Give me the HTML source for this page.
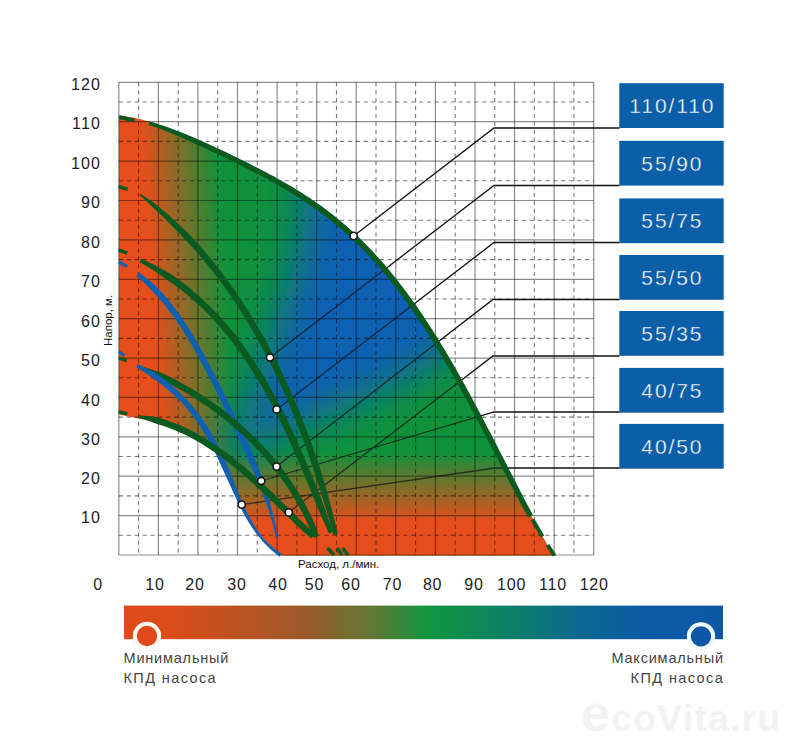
<!DOCTYPE html>
<html><head><meta charset="utf-8"><style>
html,body{margin:0;padding:0;background:#fff;}
svg{display:block;}
text{font-family:"Liberation Sans",sans-serif;}
.gs{stroke:#000;stroke-opacity:.45;stroke-width:1.2;}
.gd{stroke:#000;stroke-opacity:.52;stroke-width:1.1;stroke-dasharray:4.2 3.7;}
.ld{fill:none;stroke:#111;stroke-width:1.3;}
.dot{fill:#fff;stroke:#111;stroke-width:1.6;}
.bt{fill:#fff;font-size:21px;text-anchor:middle;letter-spacing:1.9px;stroke:#0b5ea8;stroke-width:0.35px;}
.ax{fill:#222;font-size:16px;}
.lg{fill:#444;font-size:14.5px;letter-spacing:0.8px;}
</style></head><body>
<svg width="800" height="750" viewBox="0 0 800 750">
<defs>
<clipPath id="env"><path d="M119 114.5 L119.4 115.9 L120 115.9 L120.7 116 L121.4 116 L122.2 116.1 L123.1 116.2 L123.9 116.3 L124.8 116.4 L125.6 116.4 L126.4 116.5 L127.1 116.6 L127.8 116.7 L128.6 116.9 L129.3 117 L130 117.1 L130.8 117.2 L131.5 117.3 L132.2 117.5 L133 117.6 L133.7 117.7 L134.5 117.9 L135.2 118 L135.9 118.2 L136.7 118.4 L137.4 118.5 L138.1 118.7 L138.9 118.9 L139.6 119 L140.3 119.2 L141.1 119.4 L141.8 119.6 L142.5 119.8 L143.3 120 L144 120.2 L144.8 120.4 L145.5 120.6 L146.2 120.8 L147 121 L147.7 121.2 L148.4 121.4 L149.2 121.6 L149.9 121.8 L150.6 122.1 L151.4 122.3 L152.1 122.5 L152.9 122.8 L153.6 123 L154.3 123.2 L155.1 123.5 L155.8 123.7 L156.5 124 L157.3 124.2 L158 124.5 L158.7 124.7 L159.5 125 L160.2 125.2 L160.9 125.5 L161.7 125.8 L162.4 126 L163.2 126.3 L163.9 126.6 L164.6 126.8 L165.4 127.1 L166.1 127.4 L166.8 127.7 L167.6 127.9 L168.3 128.2 L169 128.5 L169.8 128.8 L170.5 129.1 L171.3 129.4 L172 129.6 L172.7 129.9 L173.5 130.2 L174.2 130.5 L174.9 130.8 L175.7 131.1 L176.4 131.4 L177.1 131.7 L177.9 132 L178.6 132.3 L179.3 132.6 L180.1 132.9 L180.8 133.2 L181.6 133.5 L182.3 133.9 L183 134.2 L183.8 134.5 L184.5 134.8 L185.2 135.1 L186 135.4 L186.7 135.7 L187.4 136 L188.2 136.4 L188.9 136.7 L189.6 137 L190.4 137.3 L191.1 137.7 L191.9 138 L192.6 138.3 L193.3 138.6 L194.1 138.9 L194.8 139.3 L195.5 139.6 L196.3 139.9 L197 140.3 L197.7 140.6 L198.5 140.9 L199.2 141.3 L200 141.6 L200.7 141.9 L201.4 142.2 L202.2 142.6 L202.9 142.9 L203.6 143.3 L204.4 143.6 L205.1 143.9 L205.8 144.3 L206.6 144.6 L207.3 144.9 L208 145.3 L208.8 145.6 L209.5 146 L210.3 146.3 L211 146.6 L211.7 147 L212.5 147.3 L213.2 147.7 L213.9 148 L214.7 148.4 L215.4 148.7 L216.1 149.1 L216.9 149.4 L217.6 149.7 L218.4 150.1 L219.1 150.4 L219.8 150.8 L220.6 151.1 L221.3 151.5 L222 151.8 L222.8 152.2 L223.5 152.5 L224.2 152.9 L225 153.2 L225.7 153.6 L226.4 153.9 L227.2 154.3 L227.9 154.7 L228.7 155 L229.4 155.4 L230.1 155.7 L230.9 156.1 L231.6 156.4 L232.3 156.8 L233.1 157.1 L233.8 157.5 L234.5 157.9 L235.3 158.2 L236 158.6 L236.7 158.9 L237.5 159.3 L238.2 159.7 L239 160 L239.7 160.4 L240.4 160.8 L241.2 161.1 L241.9 161.5 L242.6 161.9 L243.4 162.2 L244.1 162.6 L244.8 163 L245.6 163.3 L246.3 163.7 L247.1 164.1 L247.8 164.4 L248.5 164.8 L249.3 165.2 L250 165.5 L250.7 165.9 L251.5 166.3 L252.2 166.7 L252.9 167 L253.7 167.4 L254.4 167.8 L255.1 168.2 L255.9 168.6 L256.6 168.9 L257.4 169.3 L258.1 169.7 L258.8 170.1 L259.6 170.5 L260.3 170.9 L261 171.2 L261.8 171.6 L262.5 172 L263.2 172.4 L264 172.8 L264.7 173.2 L265.5 173.6 L266.2 174 L266.9 174.4 L267.7 174.8 L268.4 175.2 L269.1 175.6 L269.9 176 L270.6 176.4 L271.3 176.8 L272.1 177.2 L272.8 177.6 L273.5 178 L274.3 178.4 L275 178.8 L275.8 179.2 L276.5 179.6 L277.2 180 L278 180.4 L278.7 180.9 L279.4 181.3 L280.2 181.7 L280.9 182.1 L281.6 182.5 L282.4 183 L283.1 183.4 L283.8 183.8 L284.6 184.2 L285.3 184.7 L286.1 185.1 L286.8 185.5 L287.5 186 L288.3 186.4 L289 186.8 L289.7 187.3 L290.5 187.7 L291.2 188.2 L291.9 188.6 L292.7 189.1 L293.4 189.5 L294.2 190 L294.9 190.4 L295.6 190.9 L296.4 191.3 L297.1 191.8 L297.8 192.2 L298.6 192.7 L299.3 193.2 L300 193.6 L300.8 194.1 L301.5 194.6 L302.2 195.1 L303 195.5 L303.7 196 L304.5 196.5 L305.2 197 L305.9 197.5 L306.7 197.9 L307.4 198.4 L308.1 198.9 L308.9 199.4 L309.6 199.9 L310.3 200.4 L311.1 200.9 L311.8 201.4 L312.6 201.9 L313.3 202.4 L314 203 L314.8 203.5 L315.5 204 L316.2 204.5 L317 205 L317.7 205.6 L318.4 206.1 L319.2 206.6 L319.9 207.1 L320.6 207.7 L321.4 208.2 L322.1 208.8 L322.9 209.3 L323.6 209.9 L324.3 210.4 L325.1 211 L325.8 211.5 L326.5 212.1 L327.3 212.6 L328 213.2 L328.7 213.8 L329.5 214.4 L330.2 214.9 L330.9 215.5 L331.7 216.1 L332.4 216.7 L333.2 217.3 L333.9 217.9 L334.6 218.5 L335.4 219.1 L336.1 219.7 L336.8 220.3 L337.6 220.9 L338.3 221.5 L339 222.1 L339.8 222.7 L340.5 223.3 L341.3 224 L342 224.6 L342.7 225.2 L343.5 225.9 L344.2 226.5 L344.9 227.1 L345.7 227.8 L346.4 228.4 L347.1 229.1 L347.9 229.7 L348.6 230.4 L349.3 231.1 L350.1 231.7 L350.8 232.4 L351.6 233.1 L352.3 233.8 L353 234.5 L353.8 235.1 L354.5 235.8 L355.2 236.5 L356 237.2 L356.7 237.9 L357.4 238.6 L358.2 239.4 L358.9 240.1 L359.6 240.8 L360.4 241.5 L361.1 242.2 L361.9 243 L362.6 243.7 L363.3 244.5 L364.1 245.2 L364.8 246 L365.5 246.7 L366.3 247.5 L367 248.2 L367.7 249 L368.5 249.8 L369.2 250.5 L370 251.3 L370.7 252.1 L371.4 252.9 L372.2 253.7 L372.9 254.5 L373.6 255.3 L374.4 256.1 L375.1 256.9 L375.8 257.7 L376.6 258.5 L377.3 259.3 L378 260.2 L378.8 261 L379.5 261.8 L380.3 262.7 L381 263.5 L381.7 264.4 L382.5 265.2 L383.2 266.1 L383.9 266.9 L384.7 267.8 L385.4 268.7 L386.1 269.5 L386.9 270.4 L387.6 271.3 L388.4 272.2 L389.1 273.1 L389.8 274 L390.6 274.9 L391.3 275.8 L392 276.7 L392.8 277.6 L393.5 278.6 L394.2 279.5 L395 280.4 L395.7 281.3 L396.4 282.3 L397.2 283.2 L397.9 284.2 L398.7 285.1 L399.4 286.1 L400.1 287.1 L400.9 288 L401.6 289 L402.3 290 L403.1 291 L403.8 291.9 L404.5 292.9 L405.3 293.9 L406 294.9 L406.7 295.9 L407.5 297 L408.2 298 L409 299 L409.7 300 L410.4 301 L411.2 302.1 L411.9 303.1 L412.6 304.2 L413.4 305.2 L414.1 306.3 L414.8 307.3 L415.6 308.4 L416.3 309.5 L417.1 310.5 L417.8 311.6 L418.5 312.7 L419.3 313.8 L420 314.9 L420.7 316 L421.5 317.1 L422.2 318.2 L422.9 319.3 L423.7 320.4 L424.4 321.5 L425.1 322.6 L425.9 323.8 L426.6 324.9 L427.4 326 L428.1 327.2 L428.8 328.3 L429.6 329.5 L430.3 330.6 L431 331.8 L431.8 332.9 L432.5 334.1 L433.2 335.3 L434 336.4 L434.7 337.6 L435.5 338.8 L436.2 340 L436.9 341.2 L437.7 342.4 L438.4 343.6 L439.1 344.8 L439.9 346 L440.6 347.2 L441.3 348.5 L442.1 349.7 L442.8 350.9 L443.5 352.1 L444.3 353.4 L445 354.6 L445.8 355.9 L446.5 357.1 L447.2 358.4 L448 359.6 L448.7 360.9 L449.4 362.1 L450.2 363.4 L450.9 364.7 L451.6 366 L452.4 367.2 L453.1 368.5 L453.8 369.8 L454.6 371.1 L455.3 372.4 L456.1 373.7 L456.8 375 L457.5 376.3 L458.3 377.6 L459 378.9 L459.7 380.2 L460.5 381.6 L461.2 382.9 L461.9 384.2 L462.7 385.5 L463.4 386.9 L464.2 388.2 L464.9 389.6 L465.6 390.9 L466.4 392.2 L467.1 393.6 L467.8 394.9 L468.6 396.3 L469.3 397.7 L470 399 L470.8 400.4 L471.5 401.7 L472.2 403.1 L473 404.5 L473.7 405.9 L474.5 407.2 L475.2 408.6 L475.9 410 L476.7 411.4 L477.4 412.8 L478.1 414.2 L478.9 415.5 L479.6 416.9 L480.3 418.3 L481.1 419.7 L481.8 421.1 L482.6 422.5 L483.3 423.9 L484 425.3 L484.8 426.8 L485.5 428.2 L486.2 429.6 L487 431 L487.7 432.4 L488.4 433.8 L489.2 435.2 L489.9 436.7 L490.6 438.1 L491.4 439.5 L492.1 440.9 L492.9 442.3 L493.6 443.8 L494.3 445.2 L495.1 446.6 L495.8 448 L496.5 449.5 L497.3 450.9 L498 452.3 L498.7 453.8 L499.5 455.2 L500.2 456.6 L500.9 458.1 L501.7 459.5 L502.4 460.9 L503.2 462.4 L503.9 463.8 L504.6 465.2 L505.4 466.6 L506.1 468.1 L506.8 469.5 L507.6 470.9 L508.3 472.4 L509 473.8 L509.8 475.2 L510.5 476.7 L511.3 478.1 L512 479.5 L512.7 480.9 L513.5 482.4 L514.2 483.8 L514.9 485.2 L515.7 486.6 L516.4 488 L517.1 489.5 L517.9 490.9 L518.6 492.3 L519.3 493.7 L520.1 495.1 L520.8 496.5 L521.6 497.9 L522.3 499.3 L523 500.7 L523.8 502.1 L524.5 503.5 L525.2 504.9 L526 506.3 L526.7 507.7 L527.4 509.1 L528.2 510.5 L528.9 511.8 L529.7 513.2 L530.4 514.6 L531.1 515.9 L531.9 517.3 L532.6 518.7 L533.3 520 L534.1 521.4 L534.8 522.7 L535.5 524.1 L536.3 525.4 L537 526.7 L537.7 528.1 L538.5 529.4 L539.2 530.7 L540 532 L540.7 533.3 L541.4 534.6 L542.2 535.9 L542.9 537.2 L543.6 538.5 L544.4 539.8 L545.1 541.1 L545.8 542.4 L546.6 543.7 L547.4 545.1 L548.3 546.5 L549.1 547.9 L550 549.3 L550.8 550.7 L551.5 551.9 L552.2 553 L552.8 554 L553.2 554.7 L556 555.5 L281 555.5 L282.1 555.3 L281.8 555.1 L281.4 554.8 L280.9 554.5 L280.4 554.1 L279.8 553.6 L279.2 553.2 L278.5 552.7 L277.9 552.3 L277.3 551.8 L276.8 551.4 L276.3 551 L275.8 550.6 L275.3 550.2 L274.8 549.8 L274.3 549.4 L273.8 549 L273.3 548.5 L272.8 548.1 L272.4 547.7 L271.9 547.3 L271.4 546.8 L271 546.4 L270.5 546 L270 545.5 L269.6 545.1 L269.1 544.6 L268.7 544.2 L268.3 543.8 L267.8 543.3 L267.4 542.9 L267 542.4 L266.5 541.9 L266.1 541.5 L265.7 541 L265.3 540.6 L264.9 540.1 L264.5 539.6 L264.1 539.2 L263.7 538.7 L263.3 538.2 L262.9 537.8 L262.5 537.3 L262.1 536.8 L261.7 536.3 L261.3 535.8 L260.9 535.4 L260.5 534.9 L260.2 534.4 L259.8 533.9 L259.4 533.4 L259.1 532.9 L258.7 532.4 L258.3 531.9 L258 531.4 L257.6 530.9 L257.3 530.4 L256.9 529.9 L256.6 529.4 L256.2 528.9 L255.9 528.4 L255.6 527.9 L255.2 527.4 L254.9 526.9 L254.6 526.4 L254.2 525.8 L253.9 525.3 L253.6 524.8 L253.3 524.3 L252.9 523.8 L252.6 523.2 L252.3 522.7 L252 522.2 L251.7 521.7 L251.4 521.1 L251.1 520.6 L250.8 520.1 L250.4 519.5 L250.1 519 L249.8 518.5 L249.5 517.9 L249.2 517.4 L249 516.9 L248.7 516.3 L248.4 515.8 L248.1 515.3 L247.8 514.7 L247.5 514.2 L247.2 513.6 L246.9 513.1 L246.7 512.5 L246.4 512 L246.1 511.4 L245.8 510.9 L245.5 510.3 L245.3 509.8 L245 509.2 L244.7 508.7 L244.4 508.1 L244.2 507.6 L243.9 507 L243.6 506.5 L243.4 505.9 L243.1 505.3 L242.8 504.8 L242.6 504.2 L242.3 503.7 L242.1 503.1 L241.8 502.5 L241.5 502 L241.3 501.4 L241 500.9 L240.8 500.3 L240.5 499.7 L240.2 499.2 L240 498.6 L239.7 498 L239.5 497.5 L239.2 496.9 L239 496.3 L238.7 495.8 L238.5 495.2 L238.2 494.6 L238 494 L237.7 493.5 L237.5 492.9 L237.2 492.3 L237 491.8 L236.7 491.2 L236.5 490.6 L236.2 490 L236 489.5 L235.8 488.9 L235.5 488.3 L235.3 487.8 L235 487.2 L234.8 486.6 L234.5 486 L234.3 485.5 L234 484.9 L233.8 484.3 L233.5 483.7 L233.3 483.2 L233.1 482.6 L232.8 482 L232.6 481.4 L232.3 480.9 L232.1 480.3 L231.8 479.7 L231.6 479.1 L231.3 478.6 L231.1 478 L230.9 477.4 L230.6 476.8 L230.4 476.2 L230.1 475.7 L229.9 475.1 L229.6 474.5 L229.4 473.9 L229.1 473.4 L228.9 472.8 L228.6 472.2 L228.4 471.6 L228.1 471.1 L227.9 470.5 L227.6 469.9 L227.4 469.3 L227.1 468.8 L226.9 468.2 L226.6 467.6 L226.4 467 L226.1 466.5 L225.9 465.9 L225.6 465.3 L225.4 464.8 L225.1 464.2 L224.9 463.6 L224.6 463 L224.4 462.5 L224.1 461.9 L223.8 461.3 L223.6 460.8 L223.3 460.2 L223.1 459.6 L222.8 459.1 L222.5 458.5 L222.3 457.9 L222 457.4 L221.8 456.8 L221.5 456.2 L221.2 455.7 L221 455.1 L220.7 454.5 L220.4 454 L220.2 453.4 L219.9 452.8 L219.6 452.3 L219.3 451.7 L219.1 451.2 L218.8 450.6 L216.7 451.8 L216.3 451.5 L215.8 451.1 L215.4 450.8 L214.9 450.5 L214.5 450.2 L214 449.9 L213.6 449.6 L213.1 449.3 L212.6 449 L212.2 448.7 L211.7 448.4 L211.3 448.1 L210.8 447.8 L210.4 447.5 L209.9 447.2 L209.4 446.9 L209 446.6 L208.5 446.3 L208.1 446 L207.6 445.7 L207.1 445.4 L206.7 445.1 L206.2 444.8 L205.7 444.5 L205.3 444.3 L204.8 444 L204.3 443.7 L203.9 443.4 L203.4 443.1 L202.9 442.8 L202.5 442.5 L202 442.3 L201.5 442 L201.1 441.7 L200.6 441.4 L200.1 441.2 L199.6 440.9 L199.2 440.6 L198.7 440.3 L198.2 440.1 L197.7 439.8 L197.3 439.5 L196.8 439.3 L196.3 439 L195.8 438.7 L195.3 438.5 L194.9 438.2 L194.4 437.9 L193.9 437.7 L193.4 437.4 L192.9 437.2 L192.5 436.9 L192 436.7 L191.5 436.4 L191 436.2 L190.5 435.9 L190 435.7 L189.5 435.4 L189.1 435.2 L188.6 434.9 L188.1 434.7 L187.6 434.4 L187.1 434.2 L186.6 433.9 L186.1 433.7 L185.6 433.5 L185.1 433.2 L184.6 433 L184.1 432.8 L183.6 432.5 L183.1 432.3 L182.7 432.1 L182.2 431.8 L181.7 431.6 L181.2 431.4 L180.7 431.2 L180.2 430.9 L179.6 430.7 L179.1 430.5 L178.6 430.3 L178.1 430.1 L177.6 429.9 L177.1 429.6 L176.6 429.4 L176.1 429.2 L175.6 429 L175.1 428.8 L174.6 428.6 L174.1 428.4 L173.6 428.2 L173.1 428 L172.5 427.8 L172 427.6 L171.5 427.4 L171 427.2 L170.5 427 L170 426.8 L169.4 426.6 L168.9 426.4 L168.4 426.2 L167.9 426.1 L167.4 425.9 L166.8 425.7 L166.3 425.5 L165.8 425.3 L165.3 425.2 L164.7 425 L164.2 424.8 L163.7 424.6 L163.2 424.5 L162.6 424.3 L162.1 424.1 L161.6 424 L161 423.8 L160.5 423.6 L160 423.5 L159.4 423.3 L158.9 423.1 L158.4 423 L157.8 422.8 L157.3 422.7 L156.8 422.5 L156.2 422.4 L155.7 422.2 L155.1 422.1 L154.6 421.9 L154.1 421.8 L153.5 421.7 L153 421.5 L152.4 421.4 L151.9 421.2 L151.3 421.1 L150.8 421 L150.2 420.8 L149.7 420.7 L149.1 420.6 L148.6 420.5 L148 420.3 L147.5 420.2 L146.9 420.1 L146.4 420 L145.8 419.9 L145.2 419.8 L144.7 419.6 L144.1 419.5 L143.5 419.4 L142.9 419.3 L142.3 419.2 L141.6 419.1 L141 419 L140.3 418.8 L139.8 418.7 L139.2 418.7 L138.8 418.6 L138.5 418.5 L119 414.5Z"/></clipPath>
<linearGradient id="lg1" x1="152" y1="280" x2="226" y2="275" gradientUnits="userSpaceOnUse">
<stop offset="0" stop-color="#e54e1b"/><stop offset="1" stop-color="#0f923b"/></linearGradient>
<linearGradient id="lg2" x1="0" y1="452" x2="0" y2="521" gradientUnits="userSpaceOnUse">
<stop offset="0" stop-color="#e54e1b" stop-opacity="0"/><stop offset="0.5" stop-color="#e54e1b" stop-opacity="0.5"/><stop offset="1" stop-color="#e54e1b" stop-opacity="1"/></linearGradient>
<filter id="bl" x="-50%" y="-50%" width="200%" height="200%"><feGaussianBlur stdDeviation="21"/></filter>
<linearGradient id="bar" x1="124" y1="0" x2="723" y2="0" gradientUnits="userSpaceOnUse">
<stop offset="0" stop-color="#e04a1a"/><stop offset="0.08" stop-color="#dc4c1a"/><stop offset="0.3" stop-color="#9c5a2a"/><stop offset="0.42" stop-color="#5c7a35"/><stop offset="0.51" stop-color="#0f963f"/><stop offset="0.63" stop-color="#0b8262"/><stop offset="0.76" stop-color="#0b6890"/><stop offset="0.87" stop-color="#0c5ba4"/><stop offset="1" stop-color="#0c58a6"/></linearGradient>
</defs>
<line x1="118.8" y1="82.3" x2="118.8" y2="555" class="gs"/><line x1="138.6" y1="82.3" x2="138.6" y2="555" class="gd"/><line x1="158.4" y1="82.3" x2="158.4" y2="555" class="gs"/><line x1="178.2" y1="82.3" x2="178.2" y2="555" class="gd"/><line x1="197.9" y1="82.3" x2="197.9" y2="555" class="gs"/><line x1="217.7" y1="82.3" x2="217.7" y2="555" class="gd"/><line x1="237.5" y1="82.3" x2="237.5" y2="555" class="gs"/><line x1="257.3" y1="82.3" x2="257.3" y2="555" class="gd"/><line x1="277.1" y1="82.3" x2="277.1" y2="555" class="gs"/><line x1="296.9" y1="82.3" x2="296.9" y2="555" class="gd"/><line x1="316.7" y1="82.3" x2="316.7" y2="555" class="gs"/><line x1="336.5" y1="82.3" x2="336.5" y2="555" class="gd"/><line x1="356.2" y1="82.3" x2="356.2" y2="555" class="gs"/><line x1="376" y1="82.3" x2="376" y2="555" class="gd"/><line x1="395.8" y1="82.3" x2="395.8" y2="555" class="gs"/><line x1="415.6" y1="82.3" x2="415.6" y2="555" class="gd"/><line x1="435.4" y1="82.3" x2="435.4" y2="555" class="gs"/><line x1="455.2" y1="82.3" x2="455.2" y2="555" class="gd"/><line x1="475" y1="82.3" x2="475" y2="555" class="gs"/><line x1="494.8" y1="82.3" x2="494.8" y2="555" class="gd"/><line x1="514.5" y1="82.3" x2="514.5" y2="555" class="gs"/><line x1="534.3" y1="82.3" x2="534.3" y2="555" class="gd"/><line x1="554.1" y1="82.3" x2="554.1" y2="555" class="gs"/><line x1="573.9" y1="82.3" x2="573.9" y2="555" class="gd"/><line x1="593.7" y1="82.3" x2="593.7" y2="555" class="gs"/><line x1="118.8" y1="555" x2="593.7" y2="555" class="gs"/><line x1="118.8" y1="535.3" x2="593.7" y2="535.3" class="gd"/><line x1="118.8" y1="515.6" x2="593.7" y2="515.6" class="gs"/><line x1="118.8" y1="495.9" x2="593.7" y2="495.9" class="gd"/><line x1="118.8" y1="476.2" x2="593.7" y2="476.2" class="gs"/><line x1="118.8" y1="456.5" x2="593.7" y2="456.5" class="gd"/><line x1="118.8" y1="436.8" x2="593.7" y2="436.8" class="gs"/><line x1="118.8" y1="417.1" x2="593.7" y2="417.1" class="gd"/><line x1="118.8" y1="397.4" x2="593.7" y2="397.4" class="gs"/><line x1="118.8" y1="377.7" x2="593.7" y2="377.7" class="gd"/><line x1="118.8" y1="358.1" x2="593.7" y2="358.1" class="gs"/><line x1="118.8" y1="338.4" x2="593.7" y2="338.4" class="gd"/><line x1="118.8" y1="318.7" x2="593.7" y2="318.7" class="gs"/><line x1="118.8" y1="299" x2="593.7" y2="299" class="gd"/><line x1="118.8" y1="279.3" x2="593.7" y2="279.3" class="gs"/><line x1="118.8" y1="259.6" x2="593.7" y2="259.6" class="gd"/><line x1="118.8" y1="239.9" x2="593.7" y2="239.9" class="gs"/><line x1="118.8" y1="220.2" x2="593.7" y2="220.2" class="gd"/><line x1="118.8" y1="200.5" x2="593.7" y2="200.5" class="gs"/><line x1="118.8" y1="180.8" x2="593.7" y2="180.8" class="gd"/><line x1="118.8" y1="161.1" x2="593.7" y2="161.1" class="gs"/><line x1="118.8" y1="141.4" x2="593.7" y2="141.4" class="gd"/><line x1="118.8" y1="121.7" x2="593.7" y2="121.7" class="gs"/><line x1="118.8" y1="102" x2="593.7" y2="102" class="gd"/><line x1="118.8" y1="82.3" x2="593.7" y2="82.3" class="gs"/>
<polyline points="353.6,235.9 494,128 619.5,128" class="ld"/><polyline points="270,357.5 494,185.5 619.5,185.5" class="ld"/><polyline points="276.6,409.4 494,242.5 619.5,242.5" class="ld"/><polyline points="276.6,466.6 493,299.5 619.5,299.5" class="ld"/><polyline points="288.8,512.4 493,356 619.5,356" class="ld"/><polyline points="261.2,481 494,412 619.5,412" class="ld"/><polyline points="241.7,504.6 495,468 619.5,468" class="ld"/>
<g clip-path="url(#env)">
<rect x="110" y="100" width="460" height="460" fill="url(#lg1)"/>
<path d="M306 140 L304 207 L296 263 L277 319 L259 375 L240 425 L218 468 L290 428 L350 405 L410 377 L440 358 L540 300 L540 140 Z" fill="#0c60b2" filter="url(#bl)"/>
<rect x="110" y="440" width="460" height="120" fill="url(#lg2)"/>
<g opacity="0.95"><line x1="118.8" y1="82.3" x2="118.8" y2="555" class="gs"/><line x1="138.6" y1="82.3" x2="138.6" y2="555" class="gd"/><line x1="158.4" y1="82.3" x2="158.4" y2="555" class="gs"/><line x1="178.2" y1="82.3" x2="178.2" y2="555" class="gd"/><line x1="197.9" y1="82.3" x2="197.9" y2="555" class="gs"/><line x1="217.7" y1="82.3" x2="217.7" y2="555" class="gd"/><line x1="237.5" y1="82.3" x2="237.5" y2="555" class="gs"/><line x1="257.3" y1="82.3" x2="257.3" y2="555" class="gd"/><line x1="277.1" y1="82.3" x2="277.1" y2="555" class="gs"/><line x1="296.9" y1="82.3" x2="296.9" y2="555" class="gd"/><line x1="316.7" y1="82.3" x2="316.7" y2="555" class="gs"/><line x1="336.5" y1="82.3" x2="336.5" y2="555" class="gd"/><line x1="356.2" y1="82.3" x2="356.2" y2="555" class="gs"/><line x1="376" y1="82.3" x2="376" y2="555" class="gd"/><line x1="395.8" y1="82.3" x2="395.8" y2="555" class="gs"/><line x1="415.6" y1="82.3" x2="415.6" y2="555" class="gd"/><line x1="435.4" y1="82.3" x2="435.4" y2="555" class="gs"/><line x1="455.2" y1="82.3" x2="455.2" y2="555" class="gd"/><line x1="475" y1="82.3" x2="475" y2="555" class="gs"/><line x1="494.8" y1="82.3" x2="494.8" y2="555" class="gd"/><line x1="514.5" y1="82.3" x2="514.5" y2="555" class="gs"/><line x1="534.3" y1="82.3" x2="534.3" y2="555" class="gd"/><line x1="554.1" y1="82.3" x2="554.1" y2="555" class="gs"/><line x1="573.9" y1="82.3" x2="573.9" y2="555" class="gd"/><line x1="593.7" y1="82.3" x2="593.7" y2="555" class="gs"/><line x1="118.8" y1="555" x2="593.7" y2="555" class="gs"/><line x1="118.8" y1="535.3" x2="593.7" y2="535.3" class="gd"/><line x1="118.8" y1="515.6" x2="593.7" y2="515.6" class="gs"/><line x1="118.8" y1="495.9" x2="593.7" y2="495.9" class="gd"/><line x1="118.8" y1="476.2" x2="593.7" y2="476.2" class="gs"/><line x1="118.8" y1="456.5" x2="593.7" y2="456.5" class="gd"/><line x1="118.8" y1="436.8" x2="593.7" y2="436.8" class="gs"/><line x1="118.8" y1="417.1" x2="593.7" y2="417.1" class="gd"/><line x1="118.8" y1="397.4" x2="593.7" y2="397.4" class="gs"/><line x1="118.8" y1="377.7" x2="593.7" y2="377.7" class="gd"/><line x1="118.8" y1="358.1" x2="593.7" y2="358.1" class="gs"/><line x1="118.8" y1="338.4" x2="593.7" y2="338.4" class="gd"/><line x1="118.8" y1="318.7" x2="593.7" y2="318.7" class="gs"/><line x1="118.8" y1="299" x2="593.7" y2="299" class="gd"/><line x1="118.8" y1="279.3" x2="593.7" y2="279.3" class="gs"/><line x1="118.8" y1="259.6" x2="593.7" y2="259.6" class="gd"/><line x1="118.8" y1="239.9" x2="593.7" y2="239.9" class="gs"/><line x1="118.8" y1="220.2" x2="593.7" y2="220.2" class="gd"/><line x1="118.8" y1="200.5" x2="593.7" y2="200.5" class="gs"/><line x1="118.8" y1="180.8" x2="593.7" y2="180.8" class="gd"/><line x1="118.8" y1="161.1" x2="593.7" y2="161.1" class="gs"/><line x1="118.8" y1="141.4" x2="593.7" y2="141.4" class="gd"/><line x1="118.8" y1="121.7" x2="593.7" y2="121.7" class="gs"/><line x1="118.8" y1="102" x2="593.7" y2="102" class="gd"/><line x1="118.8" y1="82.3" x2="593.7" y2="82.3" class="gs"/></g><g opacity="0.7"><polyline points="353.6,235.9 494,128 619.5,128" class="ld"/><polyline points="270,357.5 494,185.5 619.5,185.5" class="ld"/><polyline points="276.6,409.4 494,242.5 619.5,242.5" class="ld"/><polyline points="276.6,466.6 493,299.5 619.5,299.5" class="ld"/><polyline points="288.8,512.4 493,356 619.5,356" class="ld"/><polyline points="261.2,481 494,412 619.5,412" class="ld"/><polyline points="241.7,504.6 495,468 619.5,468" class="ld"/></g>
</g>
<path d="M148.5 124.7 L151.3 125.7 L154.9 126.9 L158.1 128 L161.3 129.2 L164.4 130.5 L167.6 131.7 L170.8 133 L174 134.4 L177.2 135.8 L180.4 137.2 L183.6 138.6 L186.8 140 L190 141.5 L193.2 142.9 L196.4 144.4 L199.6 145.8 L202.9 147.3 L206.1 148.8 L209.3 150.3 L212.5 151.8 L215.8 153.3 L219 154.8 L222.2 156.4 L225.4 157.9 L228.7 159.5 L231.9 161.1 L235.1 162.6 L238.3 164.2 L241.6 165.8 L244.8 167.5 L248 169.1 L251.2 170.7 L254.4 172.4 L257.7 174.1 L260.9 175.8 L264.1 177.5 L267.3 179.2 L270.5 181 L273.7 182.8 L277 184.6 L280.2 186.4 L283.4 188.3 L286.6 190.2 L289.8 192.1 L293 194.1 L296.2 196.1 L299.4 198.1 L302.6 200.2 L305.8 202.3 L309 204.5 L312.2 206.7 L315.4 209 L318.6 211.3 L321.9 213.7 L325.1 216.1 L328.3 218.6 L331.5 221.1 L334.7 223.7 L337.9 226.4 L341.1 229.1 L344.3 231.9 L347.5 234.8 L350.7 237.8 L353.9 240.8 L357.1 243.9 L360.3 247.1 L363.5 250.3 L366.7 253.6 L370 257.1 L373.2 260.6 L376.4 264.1 L379.6 267.8 L382.8 271.6 L386 275.4 L389.2 279.3 L392.4 283.4 L395.7 287.5 L398.9 291.7 L402.1 296 L405.3 300.4 L408.5 304.9 L411.7 309.4 L414.9 314.1 L418.2 318.8 L421.4 323.7 L424.6 328.6 L427.8 333.6 L431.1 338.7 L434.3 343.9 L437.5 349.2 L440.7 354.6 L443.9 360 L447.2 365.5 L450.4 371.1 L453.6 376.8 L456.9 382.5 L460.1 388.3 L463.3 394.2 L466.6 400.1 L469.8 406.1 L473 412.1 L476.3 418.2 L479.5 424.3 L482.7 430.5 L486 436.7 L489.2 442.9 L492.5 449.2 L495.7 455.4 L498.9 461.7 L502.2 468 L505.4 474.3 L508.7 480.6 L511.9 486.8 L515.1 493 L518.4 499.2 L521.6 505.4 L525.3 512.3 L528.1 517.6 L532.9 515 L530.1 509.7 L526.4 502.9 L523.2 496.7 L520 490.5 L516.8 484.3 L513.5 478 L510.3 471.8 L507.1 465.5 L503.9 459.2 L500.6 452.9 L497.4 446.6 L494.2 440.3 L491 434.1 L487.7 427.9 L484.5 421.7 L481.3 415.5 L478 409.4 L474.8 403.4 L471.6 397.4 L468.4 391.4 L465.1 385.5 L461.9 379.7 L458.7 373.9 L455.4 368.2 L452.2 362.6 L448.9 357.1 L445.7 351.6 L442.5 346.2 L439.2 340.9 L436 335.7 L432.7 330.5 L429.5 325.5 L426.2 320.5 L423 315.6 L419.7 310.8 L416.5 306.1 L413.2 301.5 L410 297 L406.7 292.5 L403.5 288.2 L400.2 283.9 L397 279.8 L393.7 275.7 L390.5 271.7 L387.2 267.8 L384 264 L380.7 260.3 L377.5 256.7 L374.2 253.1 L370.9 249.6 L367.7 246.3 L364.4 243 L361.2 239.7 L357.9 236.6 L354.7 233.5 L351.4 230.5 L348.1 227.6 L344.9 224.7 L341.6 222 L338.4 219.3 L335.1 216.6 L331.8 214 L328.6 211.5 L325.3 209 L322.1 206.6 L318.8 204.3 L315.5 202 L312.3 199.8 L309 197.6 L305.7 195.4 L302.5 193.3 L299.2 191.3 L296 189.3 L292.7 187.3 L289.5 185.3 L286.2 183.4 L282.9 181.6 L279.7 179.7 L276.4 177.9 L273.2 176.1 L269.9 174.4 L266.7 172.6 L263.4 170.9 L260.2 169.2 L256.9 167.5 L253.7 165.9 L250.5 164.2 L247.2 162.6 L244 161 L240.7 159.4 L237.5 157.8 L234.2 156.2 L231 154.7 L227.8 153.1 L224.5 151.6 L221.3 150 L218 148.5 L214.8 147 L211.5 145.5 L208.3 144 L205.1 142.5 L201.8 141 L198.6 139.6 L195.3 138.2 L192.1 136.7 L188.8 135.4 L185.5 134.1 L182.3 132.7 L179 131.5 L175.7 130.2 L172.4 129 L169.2 127.8 L165.9 126.6 L162.6 125.5 L159.3 124.4 L156.1 123.3 L152.4 122.2 L149.5 121.4Z" fill="#0b5a1f"/><path d="M139.8 195.3 L143.2 198.4 L147.5 202.3 L151.2 205.8 L154.9 209.4 L158.7 212.8 L162.4 216.3 L166.1 219.8 L169.7 223.4 L173.3 227 L176.8 230.7 L180.3 234.4 L183.8 238.1 L187.2 241.7 L190.7 245.5 L194.1 249.2 L197.4 253 L200.7 256.9 L204 260.7 L207.2 264.6 L210.4 268.6 L213.5 272.6 L216.6 276.6 L219.7 280.6 L222.7 284.7 L225.6 288.8 L228.6 293 L231.4 297.1 L234.3 301.3 L237.1 305.6 L239.9 309.8 L242.6 314.1 L245.3 318.4 L247.9 322.8 L250.5 327.2 L253.1 331.6 L255.7 336 L258.1 340.4 L260.6 344.9 L263 349.4 L265.4 353.9 L267.8 358.4 L270.1 363 L272.4 367.6 L274.6 372.2 L276.8 376.8 L279 381.4 L281.2 386.1 L283.3 390.7 L285.4 395.4 L287.4 400.1 L289.4 404.8 L291.4 409.6 L293.3 414.3 L295.3 419.1 L297.1 423.8 L299 428.6 L300.8 433.4 L302.6 438.2 L304.4 443 L306.1 447.8 L307.8 452.6 L309.5 457.5 L311.1 462.3 L312.7 467.2 L314.3 472 L315.9 476.9 L317.5 481.7 L319.1 486.5 L320.6 491.4 L322.1 496.2 L323.7 501.1 L325.1 505.9 L326.6 510.8 L328 515.6 L329.4 520.5 L330.8 525.3 L332.3 530.8 L333.5 535 L337.8 533.9 L336.8 529.6 L335.5 524.1 L334.3 519.2 L333 514.3 L331.7 509.3 L330.4 504.4 L329.1 499.5 L327.8 494.6 L326.4 489.7 L325 484.7 L323.5 479.8 L322.1 474.9 L320.5 470 L318.9 465.1 L317.3 460.2 L315.6 455.4 L313.9 450.5 L312.2 445.6 L310.5 440.8 L308.7 435.9 L306.9 431.1 L305.1 426.3 L303.2 421.5 L301.3 416.6 L299.4 411.8 L297.4 407.1 L295.4 402.3 L293.4 397.5 L291.3 392.8 L289.2 388.1 L287.1 383.4 L284.9 378.7 L282.7 374 L280.5 369.3 L278.2 364.7 L275.9 360.1 L273.6 355.5 L271.2 350.9 L268.8 346.3 L266.3 341.8 L263.8 337.3 L261.3 332.8 L258.7 328.3 L256.1 323.8 L253.5 319.4 L250.8 315 L248.1 310.7 L245.3 306.3 L242.5 302 L239.7 297.7 L236.8 293.5 L233.9 289.2 L230.9 285 L227.9 280.9 L224.9 276.7 L221.8 272.6 L218.6 268.6 L215.5 264.5 L212.2 260.5 L209 256.6 L205.7 252.6 L202.3 248.8 L198.9 244.9 L195.5 241.1 L192 237.3 L188.5 233.6 L184.8 229.9 L181.1 226.4 L177.3 222.9 L173.5 219.4 L169.7 215.9 L165.8 212.6 L161.8 209.2 L157.9 205.9 L153.7 202.8 L149.5 199.8 L144.7 196.5 L140.9 193.9Z" fill="#0b5a1f"/><path d="M139.5 262.3 L143 264.1 L147.5 266.6 L151.2 269 L155 271.4 L158.6 273.9 L162.2 276.4 L165.8 278.9 L169.4 281.4 L172.9 283.8 L176.4 286.4 L179.9 289 L183.3 291.6 L186.6 294.3 L189.9 297.1 L193.1 299.9 L196.3 302.7 L199.5 305.6 L202.6 308.6 L205.6 311.6 L208.6 314.6 L211.6 317.7 L214.5 320.8 L217.3 324 L220.1 327.2 L222.9 330.4 L225.7 333.7 L228.3 337.1 L231 340.4 L233.6 343.8 L236.2 347.3 L238.7 350.7 L241.2 354.2 L243.7 357.8 L246.1 361.3 L248.5 364.9 L250.8 368.6 L253.2 372.2 L255.4 375.9 L257.7 379.6 L259.9 383.3 L262.1 387.1 L264.3 390.9 L266.4 394.7 L268.5 398.5 L270.6 402.4 L272.6 406.2 L274.6 410.1 L276.6 414 L278.6 417.9 L280.5 421.9 L282.4 425.8 L284.3 429.8 L286.2 433.7 L288.1 437.7 L289.9 441.7 L291.7 445.7 L293.5 449.7 L295.2 453.8 L297 457.8 L298.7 461.8 L300.4 465.8 L302.1 469.9 L303.8 473.9 L305.5 478 L307.2 482 L308.8 486 L310.4 490.1 L312.1 494.1 L313.7 498.1 L315.3 502.1 L316.9 506.1 L318.6 510.1 L320.4 514 L322.1 518 L323.9 521.9 L325.6 525.8 L327.5 530.2 L328.9 533.6 L333.1 532 L331.8 528.5 L330.1 524 L328.8 520 L327.4 515.9 L326 511.8 L324.6 507.7 L323.1 503.7 L321.6 499.6 L320 495.6 L318.4 491.6 L316.8 487.5 L315.1 483.5 L313.5 479.4 L311.8 475.4 L310.1 471.3 L308.4 467.2 L306.7 463.2 L305 459.1 L303.2 455.1 L301.5 451 L299.7 447 L297.9 442.9 L296.1 438.9 L294.2 434.9 L292.4 430.9 L290.5 426.9 L288.6 422.9 L286.6 418.9 L284.7 414.9 L282.7 410.9 L280.7 407 L278.6 403.1 L276.6 399.2 L274.5 395.3 L272.3 391.4 L270.2 387.5 L268 383.7 L265.8 379.9 L263.5 376.1 L261.2 372.3 L258.9 368.6 L256.6 364.9 L254.2 361.2 L251.7 357.5 L249.3 353.9 L246.8 350.3 L244.2 346.7 L241.7 343.2 L239 339.7 L236.4 336.2 L233.7 332.8 L230.9 329.4 L228.1 326.1 L225.3 322.7 L222.4 319.5 L219.5 316.2 L216.5 313 L213.5 309.9 L210.4 306.8 L207.3 303.7 L204.1 300.7 L200.9 297.7 L197.6 294.8 L194.3 291.9 L190.9 289.1 L187.5 286.3 L184 283.6 L180.5 280.9 L176.9 278.3 L173.2 275.8 L169.5 273.3 L165.7 270.9 L161.8 268.8 L157.7 266.7 L153.7 264.6 L149.6 262.7 L144.9 260.5 L141.3 258.7Z" fill="#0b5a1f"/><path d="M136.4 276.1 L139.1 278.3 L142.5 281.3 L145.3 284 L148 286.8 L150.6 289.5 L153.3 292.3 L155.9 295.1 L158.5 297.9 L161 300.7 L163.4 303.6 L165.8 306.5 L168.1 309.5 L170.4 312.5 L172.7 315.6 L174.9 318.6 L177 321.8 L179.1 324.9 L181.2 328.1 L183.3 331.3 L185.3 334.5 L187.3 337.7 L189.2 341 L191.2 344.3 L193.1 347.6 L195 350.9 L196.8 354.2 L198.7 357.6 L200.5 361 L202.3 364.4 L204.1 367.8 L205.9 371.2 L207.7 374.6 L209.5 378 L211.2 381.5 L212.9 384.9 L214.7 388.4 L216.4 391.8 L218.1 395.3 L219.8 398.8 L221.5 402.2 L223.2 405.7 L224.9 409.2 L226.6 412.7 L228.3 416.2 L229.9 419.7 L231.6 423.2 L233.3 426.7 L234.9 430.2 L236.5 433.7 L238.1 437.2 L239.8 440.7 L241.4 444.2 L242.9 447.7 L244.5 451.2 L246.1 454.7 L247.6 458.3 L249.2 461.8 L250.7 465.3 L252.1 468.9 L253.6 472.4 L255.1 475.9 L256.6 479.5 L258.1 483 L259.6 486.5 L261 490 L262.5 493.6 L263.9 497.2 L265.2 500.7 L266.6 504.3 L267.8 507.9 L269.1 511.5 L270.2 515.2 L271.3 518.9 L272.4 522.6 L273.3 526.3 L274.2 530.1 L275.1 534.4 L275.7 537.7 L277.7 537.4 L277.1 534 L276.3 529.7 L275.6 525.8 L274.8 522 L274 518.2 L273.1 514.4 L272.2 510.7 L271.2 506.9 L270.2 503.1 L269.2 499.4 L268.1 495.7 L267 492 L265.8 488.3 L264.6 484.6 L263.4 481 L262.1 477.3 L260.7 473.7 L259.3 470.1 L257.9 466.5 L256.4 462.9 L254.8 459.4 L253.3 455.8 L251.8 452.2 L250.2 448.7 L248.6 445.2 L247 441.6 L245.4 438.1 L243.8 434.6 L242.1 431.1 L240.5 427.5 L238.9 424 L237.2 420.5 L235.5 417 L233.9 413.5 L232.2 410 L230.5 406.5 L228.8 403 L227.1 399.5 L225.4 396 L223.7 392.5 L222 389.1 L220.2 385.6 L218.5 382.1 L216.7 378.6 L215 375.2 L213.2 371.7 L211.4 368.3 L209.6 364.9 L207.8 361.4 L206 358 L204.1 354.6 L202.3 351.2 L200.4 347.9 L198.5 344.5 L196.5 341.2 L194.6 337.8 L192.6 334.5 L190.6 331.2 L188.5 327.9 L186.4 324.7 L184.3 321.5 L182.1 318.3 L179.9 315.1 L177.7 311.9 L175.4 308.8 L173 305.7 L170.6 302.7 L168.2 299.7 L165.7 296.7 L163.1 293.7 L160.4 290.8 L157.7 288 L154.9 285.2 L151.9 282.6 L148.8 280 L145.7 277.5 L142 274.8 L139.2 272.6Z" fill="#1060b0"/><path d="M136.9 367.1 L139.5 368.1 L142.8 369.7 L145.7 371.1 L148.6 372.6 L151.4 374.2 L154.2 375.8 L157 377.4 L159.8 378.9 L162.7 380.4 L165.6 381.9 L168.5 383.3 L171.3 384.8 L174.2 386.3 L177 387.9 L179.9 389.4 L182.7 391 L185.5 392.7 L188.3 394.3 L191.1 396 L193.8 397.7 L196.6 399.4 L199.3 401.2 L202 403 L204.7 404.8 L207.4 406.6 L210 408.5 L212.7 410.4 L215.3 412.3 L217.9 414.2 L220.5 416.2 L223.1 418.2 L225.6 420.2 L228.1 422.3 L230.6 424.3 L233.1 426.4 L235.6 428.6 L238 430.7 L240.4 432.9 L242.8 435.1 L245.2 437.3 L247.5 439.5 L249.8 441.8 L252.1 444.1 L254.4 446.4 L256.6 448.7 L258.9 451.1 L261.1 453.5 L263.2 455.9 L265.4 458.3 L267.5 460.8 L269.5 463.2 L271.6 465.7 L273.6 468.2 L275.6 470.8 L277.6 473.3 L279.5 475.9 L281.4 478.5 L283.2 481.2 L285.1 483.8 L286.9 486.5 L288.7 489.2 L290.4 491.9 L292.1 494.6 L293.8 497.4 L295.4 500.1 L297 502.9 L298.6 505.7 L300.1 508.6 L301.6 511.4 L303.1 514.3 L304.5 517.2 L305.9 520.1 L307.2 523 L308.5 526 L309.9 528.9 L311.4 531.8 L313 535.1 L314.1 537.7 L318.8 535.9 L317.8 533.2 L316.7 529.6 L315.7 526.4 L314.5 523.4 L313.1 520.3 L311.8 517.3 L310.3 514.3 L308.9 511.4 L307.4 508.4 L305.8 505.5 L304.3 502.6 L302.7 499.7 L301 496.9 L299.3 494 L297.6 491.2 L295.9 488.4 L294.1 485.6 L292.3 482.9 L290.4 480.1 L288.6 477.4 L286.7 474.7 L284.7 472.1 L282.7 469.4 L280.7 466.8 L278.7 464.2 L276.6 461.6 L274.5 459.1 L272.4 456.6 L270.3 454 L268.1 451.6 L265.9 449.1 L263.6 446.7 L261.4 444.3 L259.1 441.9 L256.8 439.5 L254.4 437.2 L252 434.9 L249.7 432.6 L247.2 430.3 L244.8 428.1 L242.3 425.9 L239.8 423.7 L237.3 421.5 L234.8 419.4 L232.3 417.2 L229.7 415.2 L227.1 413.1 L224.5 411.1 L221.8 409.1 L219.2 407.1 L216.5 405.1 L213.8 403.2 L211.1 401.3 L208.4 399.4 L205.6 397.6 L202.8 395.7 L200.1 393.9 L197.3 392.2 L194.5 390.4 L191.6 388.7 L188.8 387.1 L185.9 385.4 L183 383.8 L180.2 382.2 L177.3 380.6 L174.3 379.1 L171.4 377.6 L168.5 376.1 L165.5 374.6 L162.5 373.3 L159.5 372.1 L156.4 371 L153.3 369.9 L150.2 368.9 L147 367.9 L143.9 366.9 L140.5 365.7 L137.8 364.7Z" fill="#0b5a1f"/><path d="M136.3 367.3 L138.7 368.7 L141.7 370.6 L144.4 372.3 L147 374 L149.5 375.8 L152 377.6 L154.5 379.4 L157 381.3 L159.5 383.1 L162 384.9 L164.4 386.8 L166.8 388.7 L169.1 390.7 L171.4 392.7 L173.6 394.7 L175.9 396.8 L178 399 L180.2 401.1 L182.3 403.3 L184.3 405.6 L186.3 407.8 L188.3 410.2 L190.2 412.5 L192.1 414.9 L193.9 417.3 L195.7 419.8 L197.4 422.2 L199.2 424.7 L200.8 427.3 L202.5 429.9 L204.1 432.5 L205.7 435.1 L207.2 437.7 L208.7 440.4 L210.2 443.1 L211.6 445.8 L213 448.6 L214.4 451.3 L215.8 454.1 L217.1 456.9 L218.4 459.7 L219.7 462.5 L221 465.4 L222.3 468.2 L223.6 471 L224.9 473.9 L226.2 476.7 L227.5 479.6 L228.8 482.4 L230.1 485.3 L231.4 488.1 L232.6 491 L233.9 493.8 L235.3 496.6 L236.6 499.4 L237.9 502.3 L239.3 505.1 L240.7 507.8 L242.1 510.6 L243.6 513.4 L245 516.1 L246.6 518.8 L248.1 521.4 L249.8 524.1 L251.4 526.7 L253.2 529.2 L255 531.7 L256.8 534.2 L258.8 536.7 L260.8 539 L262.8 541.4 L264.9 543.8 L267.2 546 L269.5 548.3 L271.9 550.4 L274.4 552.6 L277.3 555 L279.6 556.8 L281.7 553.9 L279.2 552.3 L276.2 550.2 L273.7 548.3 L271.3 546.3 L269 544.1 L266.8 542 L264.7 539.7 L262.7 537.4 L260.8 535 L259 532.6 L257.3 530.1 L255.6 527.6 L254 525 L252.5 522.4 L251 519.8 L249.5 517.1 L248.1 514.4 L246.7 511.7 L245.4 509 L244.1 506.2 L242.8 503.4 L241.6 500.6 L240.4 497.7 L239.2 494.9 L238 492 L236.8 489.1 L235.7 486.3 L234.5 483.4 L233.4 480.5 L232.2 477.6 L231 474.6 L229.9 471.7 L228.7 468.8 L227.5 465.9 L226.3 463 L225 460.1 L223.7 457.3 L222.4 454.4 L221 451.6 L219.6 448.7 L218.2 445.9 L216.8 443.1 L215.3 440.3 L213.8 437.6 L212.3 434.8 L210.7 432.1 L209.1 429.4 L207.5 426.7 L205.8 424.1 L204.1 421.5 L202.3 418.9 L200.5 416.3 L198.6 413.8 L196.7 411.3 L194.8 408.8 L192.8 406.4 L190.8 404 L188.7 401.6 L186.6 399.3 L184.4 397 L182.2 394.8 L180 392.5 L177.7 390.4 L175.4 388.2 L173 386.2 L170.6 384.1 L168.1 382.1 L165.6 380.2 L163 378.2 L160.5 376.4 L157.8 374.6 L155 373 L152.3 371.4 L149.4 369.9 L146.6 368.4 L143.7 366.9 L140.5 365.4 L138 364.2Z" fill="#1060b0"/><path d="M138.2 418 L140.7 418.5 L143.8 419.3 L146.5 420.2 L149.1 421.1 L151.7 422.1 L154.3 423 L156.9 423.9 L159.6 424.7 L162.2 425.6 L164.7 426.4 L167.3 427.3 L169.8 428.2 L172.4 429.2 L174.9 430.2 L177.4 431.3 L179.8 432.4 L182.3 433.5 L184.7 434.6 L187.1 435.8 L189.5 437 L191.9 438.3 L194.3 439.6 L196.6 440.9 L198.9 442.2 L201.3 443.6 L203.6 445 L205.8 446.4 L208.1 447.9 L210.4 449.4 L212.6 450.9 L214.9 452.4 L217.1 454 L219.3 455.6 L221.5 457.2 L223.7 458.8 L225.8 460.5 L228 462.1 L230.2 463.8 L232.3 465.5 L234.4 467.3 L236.5 469 L238.7 470.8 L240.8 472.6 L242.8 474.3 L244.9 476.2 L247 478 L249.1 479.8 L251.1 481.7 L253.2 483.5 L255.2 485.4 L257.3 487.3 L259.3 489.2 L261.3 491.1 L263.3 493 L265.3 494.9 L267.4 496.8 L269.4 498.7 L271.4 500.6 L273.4 502.6 L275.3 504.5 L277.3 506.4 L279.3 508.4 L281.3 510.3 L283.3 512.3 L285.3 514.2 L287.2 516.1 L289.2 518.1 L291.2 520 L293.2 521.9 L295.1 523.9 L297.1 525.8 L299.1 527.7 L301 529.6 L303 531.5 L305.1 533.3 L307.2 535 L309.6 536.9 L311.4 538.4 L314.9 534.8 L313.2 533.1 L311.2 530.8 L309.4 528.8 L307.5 526.8 L305.6 524.9 L303.6 523 L301.6 521.1 L299.7 519.2 L297.7 517.3 L295.7 515.4 L293.8 513.4 L291.8 511.5 L289.8 509.6 L287.8 507.6 L285.8 505.7 L283.9 503.7 L281.9 501.8 L279.9 499.8 L277.9 497.9 L275.9 496 L273.9 494 L271.9 492.1 L269.8 490.2 L267.8 488.2 L265.8 486.3 L263.7 484.4 L261.7 482.5 L259.6 480.6 L257.6 478.7 L255.5 476.8 L253.4 475 L251.3 473.1 L249.2 471.3 L247.1 469.4 L245 467.6 L242.8 465.8 L240.7 464 L238.5 462.2 L236.4 460.5 L234.2 458.7 L232 457 L229.8 455.3 L227.6 453.6 L225.4 452 L223.1 450.3 L220.8 448.7 L218.6 447.1 L216.3 445.5 L214 444 L211.7 442.5 L209.3 441 L207 439.5 L204.6 438 L202.2 436.6 L199.8 435.2 L197.4 433.9 L195 432.6 L192.5 431.3 L190 430 L187.5 428.8 L185 427.6 L182.5 426.4 L179.9 425.3 L177.4 424.2 L174.8 423.2 L172.1 422.2 L169.5 421.2 L166.8 420.3 L164.2 419.4 L161.5 418.5 L158.7 417.7 L155.9 417.1 L153.1 416.7 L150.2 416.3 L147.4 416 L144.5 415.8 L141.2 415.4 L138.7 415Z" fill="#0b5a1f"/>
<line x1="119" y1="117" x2="134.5" y2="120.6" stroke="#0b5a1f" stroke-width="4"/><line x1="118.5" y1="186.4" x2="127.7" y2="189.4" stroke="#0b5a1f" stroke-width="3.5"/><line x1="118.5" y1="249.9" x2="127.2" y2="253.2" stroke="#0b5a1f" stroke-width="3.5"/><line x1="118.8" y1="261.8" x2="127.2" y2="266.7" stroke="#1060b0" stroke-width="3.2"/><line x1="118.8" y1="357.9" x2="126.7" y2="360.5" stroke="#0b5a1f" stroke-width="3.5"/><line x1="118.8" y1="351.8" x2="124.5" y2="355.5" stroke="#1060b0" stroke-width="3"/><line x1="118.5" y1="411.8" x2="127.3" y2="413.9" stroke="#0b5a1f" stroke-width="3.5"/><line x1="532.5" y1="519.5" x2="542.5" y2="536.5" stroke="#0b5a1f" stroke-width="4"/><line x1="547.5" y1="545" x2="554.5" y2="555.5" stroke="#0b5a1f" stroke-width="4"/><line x1="327.5" y1="548" x2="334" y2="555" stroke="#0b5a1f" stroke-width="3.5"/><line x1="337" y1="548" x2="342" y2="555" stroke="#0b5a1f" stroke-width="3.5"/><line x1="342.5" y1="548" x2="348" y2="555" stroke="#0b5a1f" stroke-width="3.5"/>
<circle cx="353.6" cy="235.9" r="3.6" class="dot"/><circle cx="270" cy="357.5" r="3.6" class="dot"/><circle cx="276.6" cy="409.4" r="3.6" class="dot"/><circle cx="276.6" cy="466.6" r="3.6" class="dot"/><circle cx="288.8" cy="512.4" r="3.6" class="dot"/><circle cx="261.2" cy="481" r="3.6" class="dot"/><circle cx="241.7" cy="504.6" r="3.6" class="dot"/>
<rect x="619.3" y="83.2" width="104.4" height="44.8" fill="#0b5ea8"/><text x="672.4" y="113" class="bt">110/110</text><rect x="619.3" y="140.8" width="104.4" height="44.8" fill="#0b5ea8"/><text x="672.4" y="170.6" class="bt">55/90</text><rect x="619.3" y="198.4" width="104.4" height="44.8" fill="#0b5ea8"/><text x="672.4" y="228.2" class="bt">55/75</text><rect x="619.3" y="255" width="104.4" height="44.8" fill="#0b5ea8"/><text x="672.4" y="284.8" class="bt">55/50</text><rect x="619.3" y="311" width="104.4" height="44.8" fill="#0b5ea8"/><text x="672.4" y="340.8" class="bt">55/35</text><rect x="619.3" y="367.9" width="104.4" height="44.8" fill="#0b5ea8"/><text x="672.4" y="397.7" class="bt">40/75</text><rect x="619.3" y="423.9" width="104.4" height="44.8" fill="#0b5ea8"/><text x="672.4" y="453.7" class="bt">40/50</text>
<text x="98.2" y="590" class="ax" text-anchor="middle" style="letter-spacing:0.8px">0</text><text x="154.9" y="590" class="ax" text-anchor="middle" style="letter-spacing:0.8px">10</text><text x="195" y="590" class="ax" text-anchor="middle" style="letter-spacing:0.8px">20</text><text x="236.9" y="590" class="ax" text-anchor="middle" style="letter-spacing:0.8px">30</text><text x="277.9" y="590" class="ax" text-anchor="middle" style="letter-spacing:0.8px">40</text><text x="314.5" y="590" class="ax" text-anchor="middle" style="letter-spacing:0.8px">50</text><text x="350.9" y="590" class="ax" text-anchor="middle" style="letter-spacing:0.8px">60</text><text x="392.4" y="590" class="ax" text-anchor="middle" style="letter-spacing:0.8px">70</text><text x="432.6" y="590" class="ax" text-anchor="middle" style="letter-spacing:0.8px">80</text><text x="474" y="590" class="ax" text-anchor="middle" style="letter-spacing:0.8px">90</text><text x="511.6" y="590" class="ax" text-anchor="middle" style="letter-spacing:0.8px">100</text><text x="552.9" y="590" class="ax" text-anchor="middle" style="letter-spacing:0.8px">110</text><text x="594.2" y="590" class="ax" text-anchor="middle" style="letter-spacing:0.8px">120</text><text x="101.2" y="89.7" class="ax" text-anchor="end" style="letter-spacing:1.2px">120</text><text x="101.2" y="128.7" class="ax" text-anchor="end" style="letter-spacing:1.2px">110</text><text x="101.2" y="168.7" class="ax" text-anchor="end" style="letter-spacing:1.2px">100</text><text x="101.2" y="208" class="ax" text-anchor="end" style="letter-spacing:1.2px">90</text><text x="101.2" y="247.7" class="ax" text-anchor="end" style="letter-spacing:1.2px">80</text><text x="101.2" y="287" class="ax" text-anchor="end" style="letter-spacing:1.2px">70</text><text x="101.2" y="327" class="ax" text-anchor="end" style="letter-spacing:1.2px">60</text><text x="101.2" y="366" class="ax" text-anchor="end" style="letter-spacing:1.2px">50</text><text x="101.2" y="405.7" class="ax" text-anchor="end" style="letter-spacing:1.2px">40</text><text x="101.2" y="445" class="ax" text-anchor="end" style="letter-spacing:1.2px">30</text><text x="101.2" y="484.2" class="ax" text-anchor="end" style="letter-spacing:1.2px">20</text><text x="101.2" y="522.7" class="ax" text-anchor="end" style="letter-spacing:1.2px">10</text>
<text transform="translate(111.5 346) rotate(-90)" style="font-size:11.5px;fill:#111">Напор, м.</text>
<text x="298" y="567.5" style="font-size:11.5px;fill:#111">Расход, л./мин.</text>
<rect x="124" y="605.6" width="599" height="33.6" fill="url(#bar)"/>
<circle cx="147" cy="636" r="12.2" fill="#e04a1a" stroke="#fff6f0" stroke-width="4"/>
<circle cx="701" cy="636.4" r="12.2" fill="#0c58a6" stroke="#f0faff" stroke-width="4"/>
<text x="123.5" y="662.5" class="lg">Минимальный</text>
<text x="123.5" y="682.5" class="lg" style="letter-spacing:1.4px">КПД насоса</text>
<text x="723.8" y="662.5" class="lg" text-anchor="end">Максимальный</text>
<text x="724.2" y="682.5" class="lg" text-anchor="end" style="letter-spacing:1.4px">КПД насоса</text>
<text x="581" y="730.5" style="font-size:37px;font-weight:bold;fill:#f2f2f2;letter-spacing:1.4px"><tspan style="font-size:52px">e</tspan>coVita.ru</text>
</svg>
</body></html>
